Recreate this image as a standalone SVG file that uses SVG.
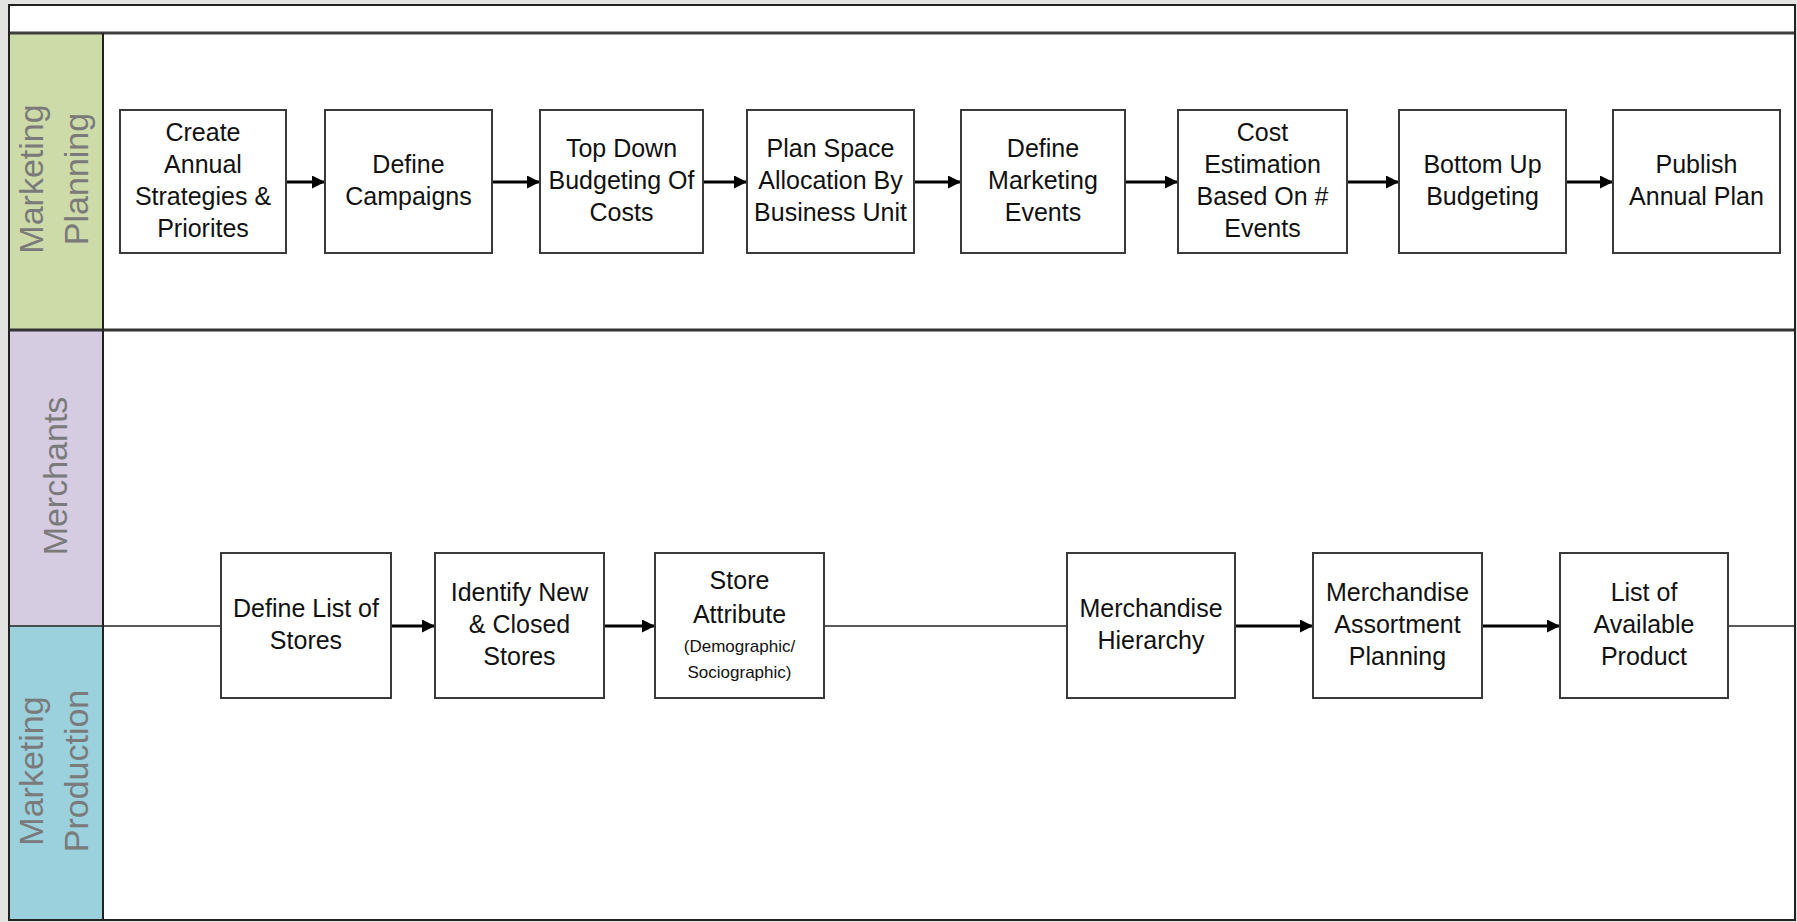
<svg xmlns="http://www.w3.org/2000/svg" width="1797" height="922" viewBox="0 0 1797 922">
<defs>
<style>
.lane-label{font-family:"Liberation Sans",Arial,sans-serif;font-size:34px;fill:#7a7a7a;text-anchor:middle}
.box{fill:#ffffff;stroke:#3a3a3a;stroke-width:2}
.t{font-family:"Liberation Sans",Arial,sans-serif;font-size:25px;fill:#111;text-anchor:middle}
.ts{font-family:"Liberation Sans",Arial,sans-serif;font-size:17px;fill:#111;text-anchor:middle}
.arrow{stroke:#000;stroke-width:3;fill:none;marker-end:url(#ah)}
</style>
<marker id="ah" viewBox="0 0 10 10" refX="10" refY="5" markerUnits="userSpaceOnUse" markerWidth="13" markerHeight="13" orient="auto">
<path d="M0,0 L10,5 L0,10 Z" fill="#000"/>
</marker>
</defs>
<rect x="0" y="0" width="1797" height="922" fill="#e3e3e1"/>
<g id="pool">
<rect x="9" y="5" width="1786" height="915" fill="#ffffff"/>
<rect x="9" y="34" width="94" height="296" fill="#cddba9"/>
<rect x="9" y="330" width="94" height="296" fill="#d5cce2"/>
<rect x="9" y="626" width="94" height="294" fill="#9bd0dd"/>
<line x1="9" y1="33" x2="1795" y2="33" stroke="#404040" stroke-width="3"/>
<line x1="9" y1="330" x2="1795" y2="330" stroke="#333" stroke-width="3"/>
<line x1="9" y1="626" x2="1795" y2="626" stroke="#222" stroke-width="1.5"/>
<line x1="103" y1="33" x2="103" y2="920" stroke="#222" stroke-width="2"/>
<rect x="9" y="5" width="1786" height="915" fill="none" stroke="#222" stroke-width="2"/>
</g>
<g id="lane-marketing-planning">
<text class="lane-label" transform="translate(43,179) rotate(-90)">Marketing</text>
<text class="lane-label" transform="translate(88,179) rotate(-90)">Planning</text>
</g>
<g id="lane-merchants">
<text class="lane-label" transform="translate(67,476) rotate(-90)">Merchants</text>
</g>
<g id="lane-marketing-production">
<text class="lane-label" transform="translate(43,771) rotate(-90)">Marketing</text>
<text class="lane-label" transform="translate(88,771) rotate(-90)">Production</text>
</g>
<g id="connectors">
<line class="arrow" x1="286" y1="182" x2="325" y2="182"/>
<line class="arrow" x1="492" y1="182" x2="540" y2="182"/>
<line class="arrow" x1="703" y1="182" x2="747" y2="182"/>
<line class="arrow" x1="914" y1="182" x2="961" y2="182"/>
<line class="arrow" x1="1125" y1="182" x2="1178" y2="182"/>
<line class="arrow" x1="1347" y1="182" x2="1399" y2="182"/>
<line class="arrow" x1="1566" y1="182" x2="1613" y2="182"/>
<line class="arrow" x1="391" y1="626" x2="435" y2="626"/>
<line class="arrow" x1="604" y1="626" x2="655" y2="626"/>
<line class="arrow" x1="1235" y1="626" x2="1313" y2="626"/>
<line class="arrow" x1="1482" y1="626" x2="1560" y2="626"/>
</g>
<g id="n1"><rect class="box" x="120" y="110" width="166" height="143"/>
<text class="t" x="203" y="141">Create</text><text class="t" x="203" y="173">Annual</text><text class="t" x="203" y="205">Strategies &amp;</text><text class="t" x="203" y="237">Priorites</text></g>
<g id="n2"><rect class="box" x="325" y="110" width="167" height="143"/>
<text class="t" x="408.5" y="173">Define</text><text class="t" x="408.5" y="205">Campaigns</text></g>
<g id="n3"><rect class="box" x="540" y="110" width="163" height="143"/>
<text class="t" x="621.5" y="157">Top Down</text><text class="t" x="621.5" y="189">Budgeting Of</text><text class="t" x="621.5" y="221">Costs</text></g>
<g id="n4"><rect class="box" x="747" y="110" width="167" height="143"/>
<text class="t" x="830.5" y="157">Plan Space</text><text class="t" x="830.5" y="189">Allocation By</text><text class="t" x="830.5" y="221">Business Unit</text></g>
<g id="n5"><rect class="box" x="961" y="110" width="164" height="143"/>
<text class="t" x="1043" y="157">Define</text><text class="t" x="1043" y="189">Marketing</text><text class="t" x="1043" y="221">Events</text></g>
<g id="n6"><rect class="box" x="1178" y="110" width="169" height="143"/>
<text class="t" x="1262.5" y="141">Cost</text><text class="t" x="1262.5" y="173">Estimation</text><text class="t" x="1262.5" y="205">Based On #</text><text class="t" x="1262.5" y="237">Events</text></g>
<g id="n7"><rect class="box" x="1399" y="110" width="167" height="143"/>
<text class="t" x="1482.5" y="173">Bottom Up</text><text class="t" x="1482.5" y="205">Budgeting</text></g>
<g id="n8"><rect class="box" x="1613" y="110" width="167" height="143"/>
<text class="t" x="1696.5" y="173">Publish</text><text class="t" x="1696.5" y="205">Annual Plan</text></g>
<g id="m1"><rect class="box" x="221" y="553" width="170" height="145"/>
<text class="t" x="306" y="617">Define List of</text><text class="t" x="306" y="649">Stores</text></g>
<g id="m2"><rect class="box" x="435" y="553" width="169" height="145"/>
<text class="t" x="519.5" y="601">Identify New</text><text class="t" x="519.5" y="633">&amp; Closed</text><text class="t" x="519.5" y="665">Stores</text></g>
<g id="m3"><rect class="box" x="655" y="553" width="169" height="145"/>
<text class="t" x="739.5" y="589">Store</text><text class="t" x="739.5" y="623">Attribute</text><text class="ts" x="739.5" y="652">(Demographic/</text><text class="ts" x="739.5" y="678">Sociographic)</text></g>
<g id="m4"><rect class="box" x="1067" y="553" width="168" height="145"/>
<text class="t" x="1151" y="617">Merchandise</text><text class="t" x="1151" y="649">Hierarchy</text></g>
<g id="m5"><rect class="box" x="1313" y="553" width="169" height="145"/>
<text class="t" x="1397.5" y="601">Merchandise</text><text class="t" x="1397.5" y="633">Assortment</text><text class="t" x="1397.5" y="665">Planning</text></g>
<g id="m6"><rect class="box" x="1560" y="553" width="168" height="145"/>
<text class="t" x="1644" y="601">List of</text><text class="t" x="1644" y="633">Available</text><text class="t" x="1644" y="665">Product</text></g>
</svg>
